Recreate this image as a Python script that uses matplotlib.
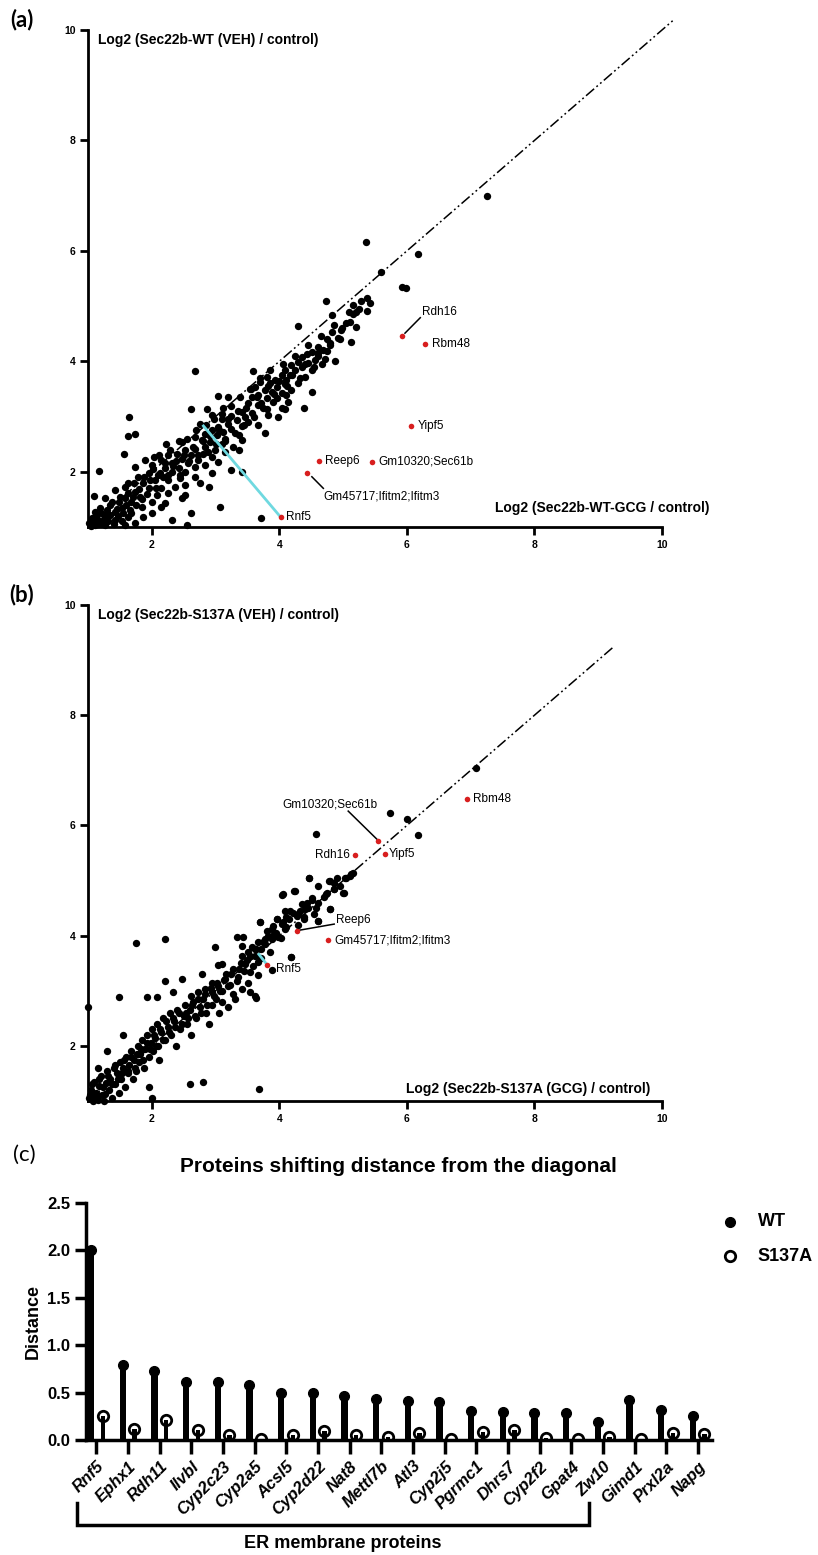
import matplotlib
matplotlib.use("Agg")
import matplotlib.pyplot as plt
from matplotlib import font_manager
import numpy as np

names = {f.name for f in font_manager.fontManager.ttflist}
NARROW = 'Liberation Sans Narrow' if 'Liberation Sans Narrow' in names else 'Liberation Sans'
SANS = 'Liberation Sans'

# ---------------- data: panel (a) ----------------
a_x = [5.36, 6.18, 5.59, 5.92, 5.98, 4.73, 5.38, 5.28, 4.82, 5.16, 5.09, 5.20, 5.37, 5.11, 5.20, 4.98, 4.30,
       4.82, 4.97, 4.74, 4.92, 4.79, 5.12, 4.61, 4.69, 4.74, 4.51, 4.43, 4.61, 4.35, 4.56, 4.30, 4.45, 4.67, 4.88,
       4.19, 4.35, 4.09, 4.24, 4.52, 3.59, 2.68, 4.04, 4.17, 3.80, 4.40, 4.11, 3.93, 3.70, 3.85, 4.09, 4.30, 3.62,
       3.96, 3.54, 3.77, 4.19, 4.51, 3.88, 4.04, 4.11, 3.67, 3.57, 3.20, 3.04, 3.80, 3.96, 3.90, 4.14, 3.72, 3.51,
       3.67, 4.38, 4.04, 3.80, 4.09, 2.61, 2.86, 3.12, 2.94, 3.41, 3.57, 3.83, 3.98, 1.65, 3.25, 3.46, 3.10, 3.33,
       3.51, 2.76, 3.20, 3.41, 3.67, 3.04, 3.25, 2.94, 3.12, 2.83, 1.63, 1.74, 3.77, 3.36, 3.02, 2.68, 3.15, 3.41,
       2.78, 2.91, 3.10, 2.48, 2.23, 3.28, 2.83, 2.68, 2.52, 2.99, 3.15, 3.36, 1.57, 2.39, 2.81, 2.62, 2.26, 2.04,
       2.94, 1.89, 2.47, 2.73, 2.15, 3.04, 2.57, 2.31, 2.00, 2.83, 2.68, 2.42, 2.21, 1.74, 3.25, 3.41, 2.52, 2.31,
       2.13, 1.95, 1.18, 2.94, 1.79, 2.68, 2.44, 2.26, 2.05, 1.63, 1.87, 2.76, 2.52, 1.58, 2.36, 2.89, 2.15, 1.95,
       1.42, 1.74, 2.26, 2.52, 2.08, 1.10, 1.82, 1.27, 1.58, 2.47, 1.48, 1.68, 2.00, 2.21, 1.34, 1.84, 1.19, 1.53,
       2.15, 3.07, 2.62, 1.42, 1.68, 1.11, 1.27, 2.00, 1.63, 1.87, 1.06, 1.16, 1.42, 1.53, 2.31, 1.74, 1.01, 1.11,
       1.27, 1.58, 2.55, 3.72, 7.25,
       1.05, 1.08, 1.12, 1.15, 1.20, 1.22, 1.25, 1.30, 1.32, 1.35, 1.38, 1.40, 1.45, 1.47, 1.50, 1.55, 1.60, 1.62,
       1.66, 1.70, 1.72, 1.76, 1.80, 1.85, 1.88, 1.92, 1.97, 2.02, 2.06, 2.10, 2.12, 2.18, 2.20, 2.25, 2.28, 2.34,
       2.38, 2.42, 2.45, 2.50, 2.55, 2.58, 2.64, 2.70, 2.72, 2.80, 2.85, 2.88, 2.92, 2.97, 3.00, 3.06, 3.10, 3.15,
       3.20, 3.24, 3.30, 3.35, 3.38, 3.45, 3.48, 3.55, 3.60, 3.65, 3.70, 3.75, 3.82, 3.86, 3.92, 4.00, 4.05, 4.12,
       4.20, 4.25, 4.32, 4.40, 4.45, 4.55, 4.60, 4.65, 4.72, 4.80, 4.85, 4.95, 5.05, 5.15, 5.25, 5.42]
a_y = [6.16, 5.94, 5.62, 5.34, 5.33, 5.09, 5.15, 5.10, 4.83, 5.02, 4.90, 4.90, 4.91, 4.71, 4.63, 4.61, 4.64,
       4.53, 4.56, 4.41, 4.43, 4.33, 4.35, 4.26, 4.21, 4.19, 4.17, 4.14, 4.09, 4.07, 4.03, 3.99, 3.97, 3.96, 4.01,
       3.93, 3.90, 3.84, 3.84, 3.85, 3.83, 3.83, 3.75, 3.75, 3.72, 3.72, 3.66, 3.66, 3.63, 3.60, 3.59, 3.60, 3.54,
       3.54, 3.49, 3.48, 3.48, 3.45, 3.45, 3.43, 3.39, 3.39, 3.36, 3.36, 3.37, 3.33, 3.33, 3.27, 3.27, 3.24, 3.24,
       3.21, 3.16, 3.16, 3.13, 3.13, 3.13, 3.13, 3.16, 3.03, 3.09, 3.06, 3.03, 3.00, 3.00, 3.01, 3.00, 2.95, 2.93,
       2.90, 2.87, 2.86, 2.83, 2.84, 2.81, 2.78, 2.75, 2.72, 2.69, 2.65, 2.69, 2.71, 2.66, 2.66, 2.63, 2.60, 2.57,
       2.57, 2.54, 2.51, 2.54, 2.50, 2.45, 2.45, 2.42, 2.39, 2.39, 2.36, 2.40, 2.33, 2.33, 2.33, 2.30, 2.30, 2.27,
       2.27, 2.21, 2.24, 2.21, 2.21, 2.18, 2.15, 2.15, 2.12, 2.12, 2.09, 2.06, 2.06, 2.09, 2.04, 2.00, 2.00, 2.00,
       1.97, 1.97, 2.01, 1.97, 1.91, 1.91, 1.88, 1.85, 1.85, 1.79, 1.79, 1.79, 1.76, 1.73, 1.73, 1.73, 1.70, 1.70,
       1.67, 1.64, 1.61, 1.58, 1.58, 1.56, 1.55, 1.52, 1.52, 1.52, 1.46, 1.46, 1.46, 1.44, 1.40, 1.37, 1.34, 1.34,
       1.37, 1.37, 1.25, 1.28, 1.26, 1.28, 1.22, 1.25, 1.19, 1.19, 1.16, 1.13, 1.13, 1.10, 1.13, 1.07, 1.07, 1.04,
       1.04, 1.04, 1.04, 1.17, 7.00,
       1.02, 1.12, 1.20, 1.05, 1.25, 1.08, 1.15, 1.30, 1.10, 1.22, 1.45, 1.05, 1.32, 1.20, 1.55, 1.25, 1.40, 1.62,
       1.30, 1.55, 1.80, 1.40, 1.68, 1.50, 1.90, 1.60, 1.85, 2.05, 1.70, 1.95, 2.30, 1.90, 2.15, 1.95, 2.40, 2.10,
       2.20, 2.55, 1.95, 2.30, 2.60, 2.20, 2.45, 2.75, 2.30, 2.55, 2.85, 2.35, 2.65, 2.95, 2.50, 2.75, 3.05, 2.55,
       2.95, 3.20, 2.70, 3.10, 3.35, 2.85, 3.15, 3.50, 3.00, 3.35, 3.70, 3.15, 3.55, 3.85, 3.40, 3.65, 3.95, 3.55,
       3.75, 4.10, 3.70, 3.95, 4.30, 3.90, 4.15, 4.45, 4.05, 4.30, 4.65, 4.40, 4.70, 4.85, 4.95, 5.05]
a_hits = ['Rdh16', 'Rbm48', 'Yipf5', 'Reep6', 'Gm10320;Sec61b', 'Gm45717;Ifitm2;Ifitm3', 'Rnf5']
a_hx = [5.92, 6.29, 6.07, 4.62, 5.46, 4.44, 4.02]
a_hy = [4.45, 4.32, 2.83, 2.19, 2.18, 1.98, 1.18]
a_rnf5_foot = (2.81, 2.83)

# ---------------- data: panel (b) ----------------
b_x = [7.09, 5.73, 6.00, 4.57, 6.17, 5.16, 5.11, 5.05, 4.47, 4.78, 4.90, 4.61, 4.85, 5.02, 4.04, 4.23, 4.74,
       4.43, 4.51, 4.32, 4.58, 4.79, 4.17, 4.27, 4.38, 4.61, 3.70, 3.96, 4.06, 4.11, 3.90, 3.83, 3.75, 3.88, 4.19,
       3.64, 3.54, 3.89, 3.64, 3.54,
       5.13, 5.03, 4.79, 5.00, 4.86, 4.73, 4.47, 4.24, 4.05, 4.51, 4.61, 4.35, 4.40, 4.79, 4.09, 4.22, 4.30, 3.96,
       4.11, 4.38, 4.61, 3.70, 4.04, 3.80, 3.91, 3.88, 4.09, 3.98, 3.77, 3.43, 3.33, 3.67, 3.57, 3.41, 3.72, 2.99,
       3.51, 3.62, 3.41, 4.19, 3.67, 3.46, 3.10, 3.04, 3.36, 3.54, 3.67, 3.25, 2.78, 3.15, 3.33, 3.51, 2.94, 3.04,
       3.20, 3.41, 2.47, 2.20, 2.83, 3.10, 2.73, 2.94, 3.28, 2.34, 2.62, 3.62, 1.76, 2.20, 1.48, 1.92, 2.08,
       1.02, 1.05, 1.08, 1.10, 1.12, 1.15, 1.18, 1.20, 1.22, 1.25, 1.28, 1.30, 1.33, 1.35, 1.38, 1.40, 1.42, 1.45,
       1.48, 1.50, 1.52, 1.55, 1.58, 1.60, 1.62, 1.65, 1.68, 1.70, 1.72, 1.75, 1.78, 1.80, 1.82, 1.85, 1.88, 1.90,
       1.92, 1.95, 1.98, 2.00, 2.02, 2.05, 2.08, 2.10, 2.12, 2.15, 2.18, 2.20, 2.25, 2.28, 2.30, 2.35, 2.38, 2.40,
       2.45, 2.50, 2.52, 2.55, 2.60, 2.62, 2.65, 2.70, 2.75, 2.80, 2.85, 2.90, 2.95, 3.00, 3.05, 3.10, 3.20, 3.30,
       1.00, 2.00, 1.95, 2.60, 2.80, 3.68, 1.30, 1.55, 1.15,
       1.03, 1.07, 1.13, 1.17, 1.23, 1.27, 1.32, 1.37, 1.43, 1.47, 1.53, 1.57, 1.63, 1.67, 1.73, 1.77, 1.83, 1.87,
       1.93, 1.97, 2.03, 2.07, 2.13, 2.17, 2.23, 2.27, 2.33, 2.37, 2.43, 2.47, 2.53, 2.57, 2.63, 2.67, 2.73, 2.77,
       2.83, 2.87, 2.93, 2.97, 3.03, 3.07, 3.13, 3.17, 3.23, 3.27, 3.35, 3.40, 3.45, 3.50, 3.58, 3.62, 3.72, 3.78,
       3.85, 3.95, 4.02, 4.15, 4.30, 4.45, 4.55, 4.70, 4.85, 4.95]
b_y = [7.04, 6.22, 6.11, 5.84, 5.82, 5.13, 5.08, 5.05, 5.05, 4.99, 5.05, 4.90, 4.85, 4.77, 4.74, 4.81, 4.78,
       4.60, 4.65, 4.45, 4.51, 4.48, 4.44, 4.36, 4.33, 4.26, 4.25, 4.30, 4.24, 4.15, 4.18, 4.00, 3.88, 3.94, 3.62,
       3.76, 3.64, 3.38, 2.87, 2.97,
       5.11, 5.05, 4.99, 4.78, 4.85, 4.75, 5.05, 4.81, 4.75, 4.69, 4.60, 4.57, 4.48, 4.48, 4.45, 4.42, 4.39, 4.30,
       4.33, 4.30, 4.27, 4.25, 4.21, 4.09, 4.03, 4.12, 4.12, 3.97, 3.94, 3.97, 3.97, 3.88, 3.79, 3.82, 3.76, 3.79,
       3.70, 3.64, 3.64, 3.62, 3.52, 3.49, 3.49, 3.46, 3.40, 3.34, 3.29, 3.31, 3.31, 3.22, 3.18, 3.15, 3.15, 3.09,
       3.09, 3.03, 3.22, 3.18, 3.03, 3.00, 2.97, 2.97, 2.94, 2.97, 2.91, 2.91, 3.86, 3.94, 2.88, 2.88, 2.88,
       1.05, 1.20, 1.00, 1.35, 1.15, 1.02, 1.28, 1.45, 1.10, 1.00, 1.32, 1.55, 1.20, 1.40, 1.05, 1.60, 1.30, 1.50,
       1.15, 1.70, 1.40, 1.60, 1.25, 1.80, 1.50, 1.65, 1.90, 1.40, 1.75, 1.55, 2.00, 1.70, 1.85, 2.10, 1.60, 1.95,
       2.20, 1.80, 2.05, 2.30, 1.90, 2.15, 2.40, 2.00, 1.75, 2.25, 2.50, 2.10, 2.35, 2.60, 2.20, 2.45, 2.00, 2.65,
       2.30, 2.55, 2.75, 2.40, 2.65, 2.20, 2.80, 2.50, 2.70, 2.85, 2.60, 2.40, 2.75, 2.85, 2.60, 2.80, 2.70, 2.85,
       2.70, 1.05, 1.25, 1.30, 1.35, 1.22, 1.90, 2.20, 1.60,
       1.10, 1.30, 1.08, 1.40, 1.25, 1.12, 1.45, 1.30, 1.65, 1.40, 1.50, 1.75, 1.55, 1.80, 1.60, 1.85, 1.95, 1.75,
       2.05, 1.95, 2.20, 2.00, 2.30, 2.10, 2.45, 2.25, 2.50, 2.35, 2.60, 2.40, 2.60, 2.50, 2.75, 2.55, 2.85, 2.60,
       2.95, 2.75, 3.05, 2.90, 3.15, 3.00, 3.20, 3.30, 3.10, 3.40, 3.25, 3.50, 3.35, 3.55, 3.45, 3.75, 3.60, 3.85,
       3.70, 4.05, 3.95, 4.30, 4.20, 4.50, 4.40, 4.70, 4.95, 4.90]
b_hits = ['Rbm48', 'Gm10320;Sec61b', 'Rdh16', 'Yipf5', 'Reep6', 'Gm45717;Ifitm2;Ifitm3', 'Rnf5']
b_hx = [6.95, 5.55, 5.18, 5.66, 4.27, 4.77, 3.81]
b_hy = [6.48, 5.72, 5.47, 5.49, 4.09, 3.92, 3.47]
b_rnf5_foot = (3.68, 3.66)

# ---------------- data: panel (c) ----------------
proteins = ['Rnf5', 'Ephx1', 'Rdh11', 'Ilvbl', 'Cyp2c23', 'Cyp2a5', 'Acsl5', 'Cyp2d22', 'Nat8', 'Mettl7b',
            'Atl3', 'Cyp2j5', 'Pgrmc1', 'Dhrs7', 'Cyp2f2', 'Gpat4', 'Zw10', 'Gimd1', 'Prxl2a', 'Napg']
wt_dist = [2.00, 0.79, 0.73, 0.61, 0.61, 0.58, 0.50, 0.50, 0.46, 0.43,
           0.41, 0.40, 0.31, 0.30, 0.29, 0.28, 0.19, 0.42, 0.32, 0.25]
s137a_dist = [0.25, 0.12, 0.21, 0.11, 0.05, 0.01, 0.05, 0.09, 0.05, 0.035,
              0.07, 0.01, 0.08, 0.11, 0.025, 0.01, 0.03, 0.01, 0.07, 0.06]
scatter_ticks = [2, 4, 6, 8, 10]
dist_ticks = [0.0, 0.5, 1.0, 1.5, 2.0, 2.5]

RED = '#d81e1e'
CYAN = '#6fd9e0'

W, H = 818, 1555
fig = plt.figure(figsize=(W / 100, H / 100), dpi=100)


def px_axes(left, top, right, bottom):
    return fig.add_axes([left / W, 1 - bottom / H, (right - left) / W, (bottom - top) / H])


def style_scatter(ax):
    ax.set_xlim(1, 10)
    ax.set_ylim(1, 10)
    for s in ['top', 'right']:
        ax.spines[s].set_visible(False)
    for s in ['left', 'bottom']:
        ax.spines[s].set_linewidth(2)
    ax.set_xticks(scatter_ticks)
    ax.set_yticks(scatter_ticks)
    ax.tick_params(direction='out', length=6, width=2, labelsize=7.5, pad=3)
    for lab in ax.get_xticklabels() + ax.get_yticklabels():
        lab.set_fontfamily(NARROW)
        lab.set_fontweight('bold')


def diag(ax, end):
    ax.plot([1, end], [1, end], color='black', lw=1.1, dashes=[7, 2, 1.2, 2, 1.2, 2],
            clip_on=False, zorder=2)


lab_kw = dict(fontsize=8.5, family=SANS, va='center', zorder=5)

# ---------------- panel (a) ----------------
axa = px_axes(88, 30, 662, 527)
style_scatter(axa)
diag(axa, 10.2)
axa.scatter(a_x, a_y, s=28, c='black', linewidths=0, clip_on=False, zorder=3)
axa.plot([a_rnf5_foot[0], a_hx[6]], [a_rnf5_foot[1], a_hy[6]], color=CYAN, lw=2, zorder=3.5)
axa.scatter(a_hx, a_hy, s=16, c=RED, linewidths=0, zorder=4)
axa.text(6.23, 4.89, 'Rdh16', ha='left', **lab_kw)
axa.plot([5.97, 6.21], [4.51, 4.79], color='black', lw=1.1)
axa.text(6.39, 4.32, 'Rbm48', ha='left', **lab_kw)
axa.text(6.17, 2.83, 'Yipf5', ha='left', **lab_kw)
axa.text(4.71, 2.19, 'Reep6', ha='left', **lab_kw)
axa.text(5.56, 2.18, 'Gm10320;Sec61b', ha='left', **lab_kw)
axa.text(4.69, 1.55, 'Gm45717;Ifitm2;Ifitm3', ha='left', **lab_kw)
axa.plot([4.51, 4.69], [1.91, 1.70], color='black', lw=1.1)
axa.text(4.11, 1.18, 'Rnf5', ha='left', **lab_kw)
axa.text(0.0174, 0.98, 'Log2 (Sec22b-WT (VEH) / control)', transform=axa.transAxes,
         fontsize=10, fontweight='bold', family=SANS, ha='left', va='center')
axa.text(7.38, 1.34, 'Log2 (Sec22b-WT-GCG / control)', fontsize=10, fontweight='bold',
         family=SANS, ha='left', va='center', clip_on=False)
fig.text(22 / W, 1 - 20 / H, '(a)', fontsize=16, fontweight='bold', family='Lato', ha='center', va='center')

# ---------------- panel (b) ----------------
axb = px_axes(88, 605, 662, 1101)
style_scatter(axb)
diag(axb, 9.25)
axb.scatter(b_x, b_y, s=28, c='black', linewidths=0, clip_on=False, zorder=3)
axb.plot([b_rnf5_foot[0], b_hx[6]], [b_rnf5_foot[1], b_hy[6]], color=CYAN, lw=2, zorder=3.5)
axb.scatter(b_hx, b_hy, s=16, c=RED, linewidths=0, zorder=4)
axb.text(7.03, 6.48, 'Rbm48', ha='left', **lab_kw)
axb.text(4.79, 6.38, 'Gm10320;Sec61b', ha='center', **lab_kw)
axb.plot([5.08, 5.53], [6.26, 5.75], color='black', lw=1.1)
axb.text(5.11, 5.47, 'Rdh16', ha='right', **lab_kw)
axb.text(5.72, 5.49, 'Yipf5', ha='left', **lab_kw)
axb.text(4.89, 4.29, 'Reep6', ha='left', **lab_kw)
axb.plot([4.27, 4.86], [4.09, 4.21], color='black', lw=1.1)
axb.text(4.86, 3.92, 'Gm45717;Ifitm2;Ifitm3', ha='left', **lab_kw)
axb.text(3.95, 3.40, 'Rnf5', ha='left', **lab_kw)
axb.text(0.0174, 0.98, 'Log2 (Sec22b-S137A (VEH) / control)', transform=axb.transAxes,
         fontsize=10, fontweight='bold', family=SANS, ha='left', va='center')
axb.text(5.98, 1.21, 'Log2 (Sec22b-S137A (GCG) / control)', fontsize=10, fontweight='bold',
         family=SANS, ha='left', va='center', clip_on=False)
fig.text(22 / W, 1 - 595 / H, '(b)', fontsize=16, fontweight='bold', family='Lato', ha='center', va='center')

# ---------------- panel (c) ----------------
axc = px_axes(86, 1203, 712, 1440)
idx = np.arange(len(proteins))
axc.set_xlim(-0.33, 19.44)
axc.set_ylim(0, 2.5)
for s in ['top', 'right']:
    axc.spines[s].set_visible(False)
for s in ['left', 'bottom']:
    axc.spines[s].set_linewidth(2.5)
axc.bar(idx - 0.17, wt_dist, width=0.2, color='black', zorder=2)
axc.plot(idx - 0.17, wt_dist, 'o', ms=7, mfc='black', mec='black', zorder=3, clip_on=False)
axc.plot(idx + 0.2, s137a_dist, 'o', ms=7.5, mfc='white', mec='black', mew=2, zorder=2)
axc.bar(idx + 0.2, s137a_dist, width=0.14, color='black', zorder=3)
axc.set_yticks(dist_ticks)
axc.set_yticklabels(['%.1f' % v for v in dist_ticks])
axc.set_xticks(idx)
axc.set_xticklabels(proteins, rotation=45, ha='right', rotation_mode='anchor')
axc.tick_params(axis='both', direction='out', length=10, width=2.5, labelsize=12)
axc.tick_params(axis='y', length=8)
for lab in axc.get_yticklabels():
    lab.set_fontfamily(NARROW)
    lab.set_fontweight('bold')
for lab in axc.get_xticklabels():
    lab.set_fontfamily(NARROW)
    lab.set_fontweight('bold')
    lab.set_fontstyle('italic')
axc.set_ylabel('Distance', fontsize=13, fontweight='bold', family=SANS, labelpad=4)

# bracket
tr = axc.get_xaxis_transform()
yb_top = (1440 - 1503) / 237.0
yb_bot = (1440 - 1525) / 237.0
axc.plot([-0.62, -0.62, 15.57, 15.57], [yb_top, yb_bot, yb_bot, yb_top], color='black', lw=2.5,
         transform=tr, clip_on=False, solid_joinstyle='miter')
axc.text(7.79, (1440 - 1543) / 237.0, 'ER membrane proteins', transform=tr, ha='center', va='center',
         fontsize=13, fontweight='bold', family=NARROW)

# legend
axc.plot([1.029], [0.92], 'o', ms=7, mfc='black', mec='black', transform=axc.transAxes, clip_on=False)
axc.plot([1.029], [0.776], 'o', ms=7.5, mfc='white', mec='black', mew=2, transform=axc.transAxes,
         clip_on=False)
axc.text(1.073, 0.92, 'WT', transform=axc.transAxes, fontsize=13, fontweight='bold', family=SANS,
         va='center', ha='left')
axc.text(1.073, 0.776, 'S137A', transform=axc.transAxes, fontsize=13, fontweight='bold', family=SANS,
         va='center', ha='left')

fig.text(398 / W, 1 - 1167 / H, 'Proteins shifting distance from the diagonal', fontsize=15,
         fontweight='bold', family=NARROW, ha='center', va='center')
fig.text(24 / W, 1 - 1155 / H, '(c)', fontsize=16, family='Lato', ha='center', va='center')

fig.savefig('out.png', dpi=100)
